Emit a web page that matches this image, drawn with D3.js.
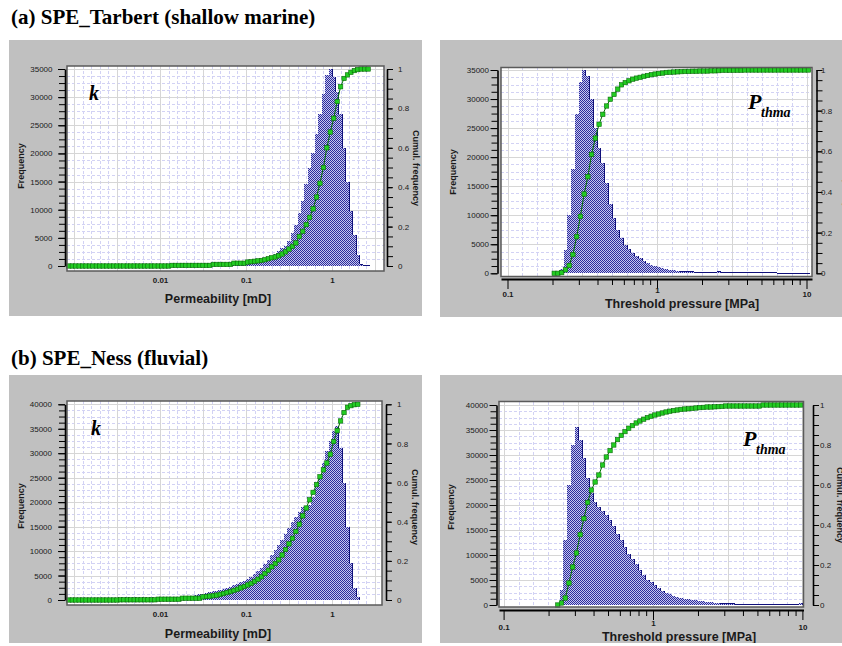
<!DOCTYPE html>
<html>
<head>
<meta charset="utf-8">
<script src="https://cdn.jsdelivr.net/npm/d3@7"></script>
<style>
  body { margin: 0; background: #fff; }
  svg { display: block; }
  .title { font-family: "Liberation Serif", "Times New Roman", serif; font-weight: bold; font-size: 21px; fill: #000; }
  .tick text { font-family: "Liberation Sans", Arial, sans-serif; font-size: 8px; fill: #1a1a1a; }
  .xax .tick text { font-weight: bold; }
  .axtitle { font-family: "Liberation Sans", Arial, sans-serif; font-weight: bold; font-size: 12.5px; fill: #1a1a1a; }
  .sidelabel { font-family: "Liberation Sans", Arial, sans-serif; font-weight: bold; font-size: 9px; fill: #1a1a1a; }
  .sym { font-family: "Liberation Serif", "Times New Roman", serif; font-weight: bold; font-style: italic; fill: #000; }
</style>
</head>
<body>
<svg id="fig" width="842" height="646"></svg>
<script>
// ---------- data ----------
// histogram bins are equal in log10: edge i = 10^(log0 + i*step)
const permLog0 = -3.08, permLogStep = 0.04;
const tarbertPthLog0 = -0.70, nessPthLog0 = -0.65, pthLogStep = 0.025;

const tarbertPermCounts = [
  0,0,0,0,0,0,0,0,0,0, 0,0,0,0,0,0,0,0,0,0, 0,0,0,0,0,0,0,0,0,0,
  50,50,50,50,50,50,50,50,50,50,
  100,120,150,170,200,230,260,300,330,370,400,450,
  500,550,600,700,900,1200,1400,1700,2100,2600,3200,3600,4400,5800,7200,9500,
  11500,14500,17500,20000,23500,27000,30500,34000,35000,33500,31000,27000,
  21000,15000,9800,5500,2000,300,100,100
];
const tarbertPermCum = [
  0,0,0,0,0,0,0,0,0,0, 0,0,0,0,0,0,0,0,0,0, 0,0,0,0,0,0,0,0,0,0,
  0.003,0.003,0.003,0.003,0.003,0.003,0.003,0.003,0.003,0.003,0.003,0.003,
  0.008,0.008,0.008,0.008,0.008,0.008,
  0.014,0.014,0.014,0.014,
  0.02,0.022,0.024,0.026,0.028,0.032,0.037,0.042,0.046,0.052,0.061,0.072,
  0.086,0.1,0.117,0.15,0.176,0.21,0.247,0.29,0.35,0.42,0.5,0.6,
  0.68,0.75,0.835,0.91,0.952,0.97,0.983,0.992,0.997,1,1,1
];

const tarbertPthCounts = [
  0,0,800,4000,10000,18000,27500,33000,35000,34000,
  30000,25000,21500,19000,15500,12000,9500,7500,6000,4900,
  4200,3500,3000,2600,2100,1750,1450,1200,1000,850,
  700,600,500,420,360,310,270,240,210,190,
  170,150,140,130,250,110,100,100,
  90,90,80,80,80,70,70,70,60,60,60,60,50,50,50,50,50,50,50,50,50
];
const tarbertPthCum = [
  0,0,0.003,0.017,0.038,0.092,0.18,0.28,0.39,0.475,
  0.585,0.665,0.733,0.782,0.823,0.856,0.88,0.906,0.927,0.938,
  0.947,0.955,0.96,0.964,0.969,0.973,0.977,0.98,0.983,0.985,
  0.988,0.989,0.99,0.991,0.992,0.993,0.993,0.994,0.994,0.995,
  0.995,0.995,0.996,0.996,0.997,
  0.999,0.999,0.999,0.999,0.999,0.999,
  1,1,1,1,1,1,1,1,1,1,1,1,1,1,1,1,1,1
];

const nessPermCounts = [
  500,0,0,0,0,0,0,0,0,0,0,0,0,
  100,100,100,100,100,100,100,100,100,100,100,100,100,
  400,420,450,480,500,550,600,650,700,800,900,1000,1150,
  1300,1450,1600,1750,1900,2050,2250,2500,2750,3050,3300,3600,3900,
  4300,4800,5300,5900,6500,7300,8200,9200,10300,11300,12300,13500,
  14800,16000,17000,18000,19000,19300,19500,21000,23000,25500,28000,30500,
  32500,34500,35500,31000,24000,15000,7500,2500,600,0,0,0
];
const nessPermCum = [
  0,0,0,0,0,0,0,0,0,0,0,0,0,0,0,
  0.001,0.001,0.001,0.001,0.001,0.001,0.001,0.001,0.001,0.001,0.001,
  0.004,0.004,0.004,0.004,0.004,0.004,0.004,
  0.009,0.009,0.009,0.009,0.009,0.009,
  0.016,0.018,0.02,0.022,0.025,0.029,0.033,0.038,0.043,0.049,0.055,0.062,
  0.069,0.077,0.085,0.095,0.106,0.119,0.135,0.152,0.17,0.186,0.205,0.23,
  0.258,0.287,0.315,0.35,0.387,0.43,0.47,0.512,0.55,0.59,0.63,0.665,
  0.7,0.745,0.81,0.865,0.915,0.958,0.985,0.993,0.998,1
];

const nessPthCounts = [
  0,3000,13000,24000,32000,35700,33000,29500,25500,22500,
  20700,19600,18800,18000,17000,15800,14200,13000,11700,10300,
  9200,8200,7100,6000,5100,4600,4000,3500,2900,2500,
  2200,1900,1700,1500,1300,1150,1050,950,850,750,
  680,600,500,420,350,300,260,220,200,180,
  160,150,140,130,120,110,100,90,
  50,50,50,50,50,50,50,500
];
const nessPthCum = [
  0,0.01,0.035,0.11,0.19,0.26,0.352,0.432,0.513,0.575,
  0.615,0.65,0.70,0.74,0.772,0.80,0.827,0.848,0.867,0.884,
  0.897,0.91,0.92,0.929,0.937,0.944,0.95,0.955,0.96,0.965,
  0.969,0.972,0.975,0.978,0.98,0.981,0.983,0.985,0.987,0.988,
  0.99,0.99,0.991,0.992,0.993,
  0.995,0.995,0.995,0.995,0.995,0.995,0.995,0.995,0.995,0.995,
  1,1,1,1,1,1,1,1,1,1,1
];

const freqTicks35 = [0, 5000, 10000, 15000, 20000, 25000, 30000, 35000];
const freqTicks40 = [0, 5000, 10000, 15000, 20000, 25000, 30000, 35000, 40000];
const cumTicks = [0, 0.2, 0.4, 0.6, 0.8, 1];
const permTicks = [0.01, 0.1, 1];
const pressureTicks = [0.1, 1, 10];

// ---------- layout ----------
const panels = [
  { id: "a1", counts: tarbertPermCounts, cum: tarbertPermCum, log0: permLog0, step: permLogStep,
    freqTicks: freqTicks35, xTicks: permTicks, xTitle: "Permeability [mD]", sym: "k",
    box: [9, 40, 422, 316], frame: [67, 66, 384, 271], yZero: 266, yTop: 69,
    xAt1: 332, decade: 86, leftAxis: 65, leftLabel: 52.5, rightAxis: 387, rightLabel: 398,
    xAxisY: null, xLabelY: 283, xTitlePos: [218, 303], freqPos: [21, 166], cumPos: [416, 168],
    symPos: [89, 100] },
  { id: "a2", counts: tarbertPthCounts, cum: tarbertPthCum, log0: tarbertPthLog0, step: pthLogStep,
    freqTicks: freqTicks35, xTicks: pressureTicks, xTitle: "Threshold pressure [MPa]", sym: "P",
    box: [440, 40, 842, 317], frame: [501, 67.5, 812, 276.5], yZero: 273.3, yTop: 70,
    xAt1: 657, decade: 149.5, leftAxis: 497.5, leftLabel: 489, rightAxis: 816.5, rightLabel: 821,
    xAxisY: 279, xLabelY: 297, xTitlePos: [682, 308], freqPos: [453, 172], cumPos: [847, 170],
    symPos: [748, 109] },
  { id: "b1", counts: nessPermCounts, cum: nessPermCum, log0: permLog0, step: permLogStep,
    freqTicks: freqTicks40, xTicks: permTicks, xTitle: "Permeability [mD]", sym: "k",
    box: [9, 375, 422, 643], frame: [67, 401, 382, 605], yZero: 600, yTop: 404.3,
    xAt1: 332, decade: 86, leftAxis: 65, leftLabel: 52, rightAxis: 386, rightLabel: 397,
    xAxisY: null, xLabelY: 617, xTitlePos: [218, 638], freqPos: [21, 506], cumPos: [415, 507],
    symPos: [91, 435] },
  { id: "b2", counts: nessPthCounts, cum: nessPthCum, log0: nessPthLog0, step: pthLogStep,
    freqTicks: freqTicks40, xTicks: pressureTicks, xTitle: "Threshold pressure [MPa]", sym: "P",
    box: [440, 375, 842, 643], frame: [499, 401.5, 803.5, 607], yZero: 605, yTop: 405,
    xAt1: 653, decade: 149.4, leftAxis: 496.5, leftLabel: 488, rightAxis: 813, rightLabel: 820,
    xAxisY: 610, xLabelY: 630, xTitlePos: [679, 641], freqPos: [451, 507], cumPos: [840, 505],
    symPos: [743, 446] }
];

const svg = d3.select("#fig");
const defs = svg.append("defs");

// checker dither used by the histogram bars
const pat = defs.append("pattern").attr("id", "dither")
  .attr("width", 2).attr("height", 2).attr("patternUnits", "userSpaceOnUse");
pat.append("rect").attr("width", 2).attr("height", 2).attr("fill", "#c6c6ee");
pat.append("rect").attr("width", 1).attr("height", 1).attr("fill", "#2c2c9c");
pat.append("rect").attr("x", 1).attr("y", 1).attr("width", 1).attr("height", 1).attr("fill", "#2c2c9c");

svg.append("text").attr("class", "title").attr("x", 11).attr("y", 24).text("(a) SPE_Tarbert (shallow marine)");
svg.append("text").attr("class", "title").attr("x", 11).attr("y", 365).text("(b) SPE_Ness (fluvial)");

const crisp = v => Math.round(v) + 0.5;

function drawPanel(p) {
  const [bx0, by0, bx1, by1] = p.box;
  const [fx0, fy0, fx1, fy1] = p.frame;

  defs.append("clipPath").attr("id", "clip-" + p.id).append("rect")
    .attr("x", bx0).attr("y", by0).attr("width", bx1 - bx0).attr("height", by1 - by0);
  const g = svg.append("g").attr("clip-path", `url(#clip-${p.id})`);

  g.append("rect").attr("x", bx0).attr("y", by0).attr("width", bx1 - bx0).attr("height", by1 - by0)
    .attr("fill", "#c0c0c0");

  const x = d3.scaleLog()
    .domain([fx0, fx1].map(px => Math.pow(10, (px - p.xAt1) / p.decade)))
    .range([fx0, fx1]);
  const fmax = p.freqTicks[p.freqTicks.length - 1];
  const yF = d3.scaleLinear().domain([0, fmax]).range([p.yZero, p.yTop]);
  const yC = d3.scaleLinear().domain([0, 1]).range([p.yZero, p.yTop]);

  g.append("rect").attr("x", fx0).attr("y", fy0).attr("width", fx1 - fx0).attr("height", fy1 - fy0)
    .attr("fill", "#fff");

  // grid: dashed minor every 0.1 decade / 1250, solid major every half decade / 5000
  const grid = g.append("g").attr("shape-rendering", "crispEdges");
  const lg = x.domain().map(Math.log10);
  const ks = d3.range(Math.ceil(lg[0] * 10), Math.floor(lg[1] * 10) + 1);
  const hMinor = d3.range(0, fmax + 1, 1250).filter(v => v % 5000 !== 0);
  grid.selectAll("line.vmin").data(ks.filter(k => k % 5 !== 0)).join("line")
    .attr("x1", k => crisp(x(Math.pow(10, k / 10)))).attr("x2", k => crisp(x(Math.pow(10, k / 10))))
    .attr("y1", fy0).attr("y2", fy1)
    .attr("stroke", "#d2d2f4").attr("stroke-dasharray", "3,2");
  grid.selectAll("line.hmin").data(hMinor).join("line")
    .attr("x1", fx0).attr("x2", fx1).attr("y1", v => crisp(yF(v))).attr("y2", v => crisp(yF(v)))
    .attr("stroke", "#d2d2f4").attr("stroke-dasharray", "3,2");
  grid.selectAll("line.vmaj").data(ks.filter(k => k % 5 === 0)).join("line")
    .attr("x1", k => crisp(x(Math.pow(10, k / 10)))).attr("x2", k => crisp(x(Math.pow(10, k / 10))))
    .attr("y1", fy0).attr("y2", fy1).attr("stroke", "#d6d6d6").attr("stroke-width", 1.5);
  grid.selectAll("line.hmaj").data(p.freqTicks.slice(1)).join("line")
    .attr("x1", fx0).attr("x2", fx1).attr("y1", v => crisp(yF(v))).attr("y2", v => crisp(yF(v)))
    .attr("stroke", "#d6d6d6").attr("stroke-width", 1.5);

  // histogram
  const bins = p.counts.map((c, i) => ({
    lo: Math.pow(10, p.log0 + i * p.step),
    hi: Math.pow(10, p.log0 + (i + 1) * p.step),
    c: c
  }));
  g.append("g").selectAll("rect").data(bins.filter(b => b.c > 0)).join("rect")
    .attr("x", b => x(b.lo)).attr("width", b => x(b.hi) - x(b.lo))
    .attr("y", b => yF(b.c)).attr("height", b => p.yZero - yF(b.c))
    .attr("fill", "url(#dither)").attr("shape-rendering", "crispEdges");

  // dark edges on the falling side, and a line along the thin tail
  let edge = "";
  bins.forEach((b, i) => {
    const next = i + 1 < bins.length ? bins[i + 1].c : 0;
    if (b.c > next && b.c - next > 300) edge += `M${x(b.hi)},${yF(b.c)}V${yF(next)}`;
    if (b.c > 0 && b.c < 400) edge += `M${x(b.lo)},${yF(b.c)}H${x(b.hi)}`;
  });
  g.append("path").attr("d", edge).attr("fill", "none")
    .attr("stroke", "#10107a").attr("stroke-width", 1).attr("shape-rendering", "crispEdges");

  // cumulative frequency
  const pts = p.cum.map((v, i) => [x(Math.pow(10, p.log0 + (i + 0.5) * p.step)), yC(v)]);
  g.append("path").attr("d", d3.line()(pts)).attr("fill", "none")
    .attr("stroke", "#007000").attr("stroke-width", 1);
  g.append("g").selectAll("rect").data(pts).join("rect")
    .attr("x", d => d[0] - 2.2).attr("y", d => d[1] - 2.2).attr("width", 4.4).attr("height", 4.4)
    .attr("fill", "#22cc22").attr("stroke", "#0a6a0a").attr("stroke-width", 0.6);

  // frame
  g.append("rect").attr("x", fx0).attr("y", fy0).attr("width", fx1 - fx0).attr("height", fy1 - fy0)
    .attr("fill", "none").attr("stroke", "#5a5a5a").attr("stroke-width", 1.5);

  // left axis (frequency)
  const minorF = d3.range(0, fmax + 1, 1250);
  g.append("g").attr("transform", `translate(${p.leftAxis},0)`)
    .call(d3.axisLeft(yF).tickValues(minorF).tickSize(6).tickFormat(""))
    .call(a => a.select(".domain").remove());
  g.append("g").attr("transform", `translate(${p.leftAxis},0)`)
    .call(d3.axisLeft(yF).tickValues(p.freqTicks).tickSize(7).tickSizeOuter(0)
      .tickPadding(p.leftAxis - 7 - p.leftLabel).tickFormat(d3.format("d")))
    .call(a => a.select(".domain").attr("stroke-width", 1.6));

  // right axis (cumulative)
  const minorC = d3.range(0, 21).map(k => k / 20);
  g.append("g").attr("transform", `translate(${p.rightAxis},0)`)
    .call(d3.axisRight(yC).tickValues(minorC).tickSize(6).tickFormat(""))
    .call(a => a.select(".domain").remove());
  g.append("g").attr("transform", `translate(${p.rightAxis},0)`)
    .call(d3.axisRight(yC).tickValues(cumTicks).tickSize(5).tickSizeOuter(0)
      .tickPadding(p.rightLabel - p.rightAxis - 5)
      .tickFormat(d => (d === 0 || d === 1) ? String(d) : d3.format(".1f")(d)))
    .call(a => a.select(".domain").attr("stroke-width", 1.6));

  // bottom axis
  if (p.xAxisY !== null) {
    const dec = [1, 2, 3, 4, 5, 6, 7, 8, 9];
    const minorX = [0.1, 1].flatMap(b => dec.map(m => b * m)).filter(v => !p.xTicks.includes(v));
    g.append("g").attr("transform", `translate(0,${p.xAxisY})`)
      .call(d3.axisBottom(x).tickValues(minorX).tickSize(6).tickFormat(""))
      .call(a => a.select(".domain").remove());
    g.append("g").attr("class", "xax").attr("transform", `translate(0,${p.xAxisY})`)
      .call(d3.axisBottom(x).tickValues(p.xTicks).tickSize(10).tickSizeOuter(0)
        .tickPadding(p.xLabelY - p.xAxisY - 10 - 5.7).tickFormat(d => String(d)))
      .call(a => a.select(".domain").attr("stroke-width", 1.8))
      // the middle label sits a little higher, clear of the axis title
      .call(a => a.selectAll(".tick text").filter(d => d === 1)
        .attr("y", function () { return +d3.select(this).attr("y") - 3.5; }));
  } else {
    g.append("g").attr("class", "xax").attr("transform", `translate(0,${fy1})`)
      .call(d3.axisBottom(x).tickValues(p.xTicks).tickSize(0).tickSizeOuter(0)
        .tickPadding(p.xLabelY - fy1 - 5.7).tickFormat(d => String(d)))
      .call(a => a.select(".domain").remove());
  }

  g.append("text").attr("class", "axtitle").attr("text-anchor", "middle")
    .attr("x", p.xTitlePos[0]).attr("y", p.xTitlePos[1]).text(p.xTitle);
  g.append("text").attr("class", "sidelabel").attr("text-anchor", "middle").attr("dy", "0.35em")
    .attr("transform", `translate(${p.freqPos[0]},${p.freqPos[1]}) rotate(-90)`).text("Frequency");
  g.append("text").attr("class", "sidelabel").attr("text-anchor", "middle").attr("dy", "0.35em")
    .attr("transform", `translate(${p.cumPos[0]},${p.cumPos[1]}) rotate(90)`).text("Cumul. frequency");

  if (p.sym === "k") {
    g.append("text").attr("class", "sym").attr("font-size", 20)
      .attr("x", p.symPos[0]).attr("y", p.symPos[1]).text("k");
  } else {
    g.append("text").attr("class", "sym").attr("font-size", 22)
      .attr("x", p.symPos[0]).attr("y", p.symPos[1]).text("P");
    g.append("text").attr("class", "sym").attr("font-size", 14)
      .attr("x", p.symPos[0] + 13).attr("y", p.symPos[1] + 7.5).text("thma");
  }
}

panels.forEach(drawPanel);
</script>
</body>
</html>
